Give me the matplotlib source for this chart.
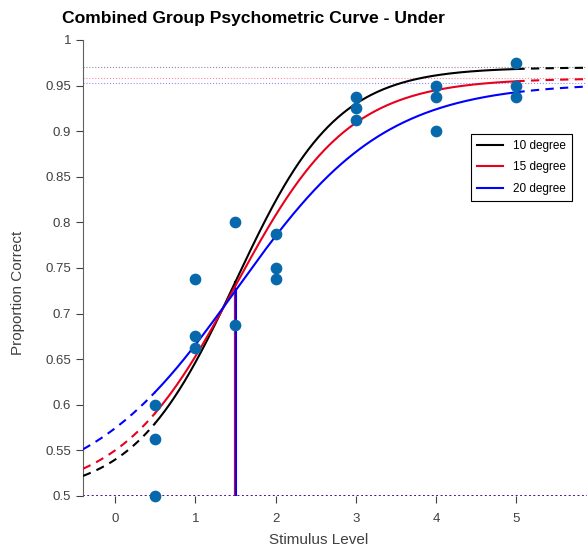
import numpy as np
import matplotlib.pyplot as plt

plt.rcParams['font.family'] = ['Liberation Sans', 'DejaVu Sans']

# observed proportions correct
stim_x = [0.5, 0.5, 0.5, 1, 1, 1, 1.5, 1.5, 2, 2, 2, 3, 3, 3, 4, 4, 4, 5, 5, 5]
prop_y = [0.6, 0.5625, 0.5, 0.7375, 0.675, 0.6625, 0.8, 0.6875, 0.7875, 0.75, 0.7375,
          0.9375, 0.925, 0.9125, 0.95, 0.9375, 0.9, 0.975, 0.95, 0.9375]

# fitted logistic parameters per condition
labels = ['10 degree', '15 degree', '20 degree']
colors = ['black', '#e8001c', '#0000ff']
alpha = [1.50, 1.49, 1.51]      # threshold
slope = [1.585, 1.408, 1.078]   # 1/beta
guess = [0.5, 0.5, 0.5]
upper = [0.970, 0.958, 0.953]   # 1 - lapse

x_fit_min, x_fit_max = 0.5, 5.0
x_lo, x_hi = -0.4, 5.88


def psy(x, a, b, g, u):
    return g + (u - g) / (1 + np.exp(-(x - a) * b))


fig = plt.figure(figsize=(5.87, 5.56), dpi=100)
ax = fig.add_axes([83 / 587, 60 / 556, 1 - 83 / 587, 456 / 556])

for i in range(3):
    a, b, g, u = alpha[i], slope[i], guess[i], upper[i]
    ax.axhline(u, color=colors[i], lw=0.8, ls=':', alpha=0.45, zorder=1)
    ax.axhline(g, color=colors[i], lw=1.2, ls=':', alpha=0.7, zorder=1)

for i in range(3):
    a, b, g, u = alpha[i], slope[i], guess[i], upper[i]
    xs = np.linspace(x_fit_min, x_fit_max, 300)
    ax.plot(xs, psy(xs, a, b, g, u), color=colors[i], lw=1.5, label=labels[i], zorder=3)
    xl = np.linspace(x_lo, x_fit_min, 60)
    ax.plot(xl, psy(xl, a, b, g, u), color=colors[i], lw=1.5, ls=(0, (4, 3)), zorder=3)
    xr = np.linspace(x_fit_max, x_hi, 60)
    ax.plot(xr, psy(xr, a, b, g, u), color=colors[i], lw=1.5, ls=(0, (4, 3)), zorder=3)
    ax.plot([a, a], [g, psy(a, a, b, g, u)], color=colors[i], lw=1.5, zorder=3)

ax.scatter(stim_x, prop_y, s=55, color='#0868ac', zorder=4, clip_on=False)

ax.set_xlim(x_lo, x_hi)
ax.set_ylim(0.5, 1.0)
ax.set_xticks([0, 1, 2, 3, 4, 5])
ax.set_yticks(np.arange(0.5, 1.001, 0.05))
ax.set_yticklabels(['0.5', '0.55', '0.6', '0.65', '0.7', '0.75', '0.8', '0.85', '0.9', '0.95', '1'])
ax.tick_params(colors='#404040', labelsize=9.5, length=5, width=0.8)
ax.tick_params(axis='x', pad=7)
for s in ['top', 'right', 'bottom']:
    ax.spines[s].set_visible(False)
ax.spines['left'].set_color('#606060')
ax.spines['left'].set_bounds(0.5, 1.0)

leg = ax.legend(loc='upper left', bbox_to_anchor=(0.759, 0.807), fontsize=8.5,
                fancybox=False, edgecolor='black', framealpha=1, handlelength=2.2,
                borderpad=0.5, labelspacing=0.8)
leg.get_frame().set_linewidth(0.8)

fig.text(62 / 587, 1 - 18 / 556, 'Combined Group Psychometric Curve - Under',
         fontsize=12.6, fontweight='bold', va='center', ha='left')
fig.text(319 / 587, 1 - 540 / 556, 'Stimulus Level', fontsize=11, color='#404040',
         ha='center', va='center')
fig.text(18 / 587, 1 - 293 / 556, 'Proportion Correct', fontsize=11, color='#404040',
         ha='center', va='center', rotation=90)

fig.savefig('out.png', dpi=100)
